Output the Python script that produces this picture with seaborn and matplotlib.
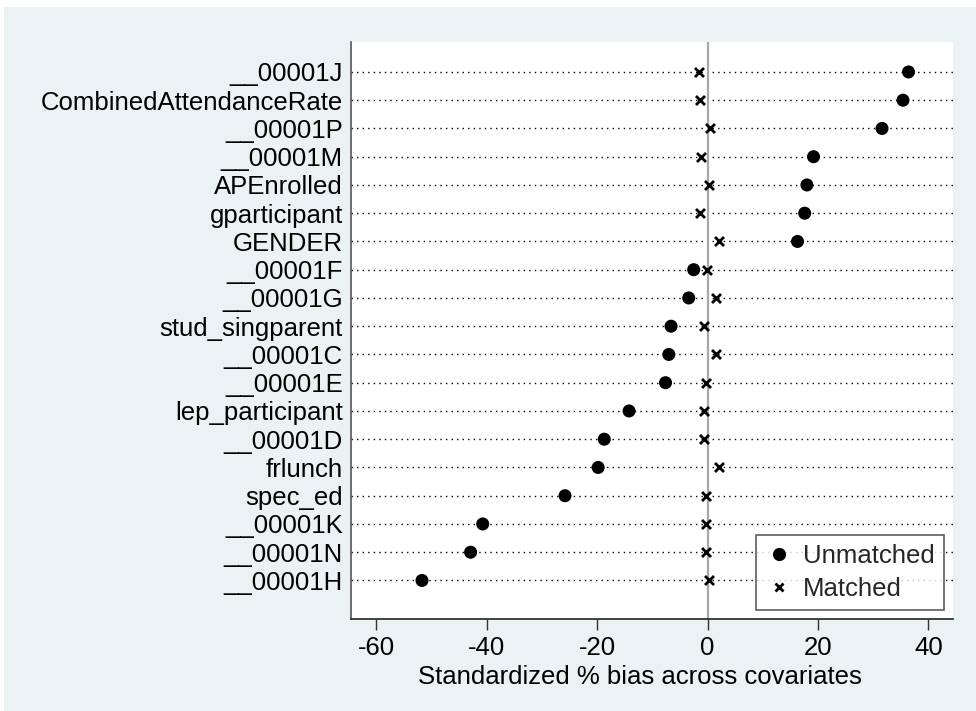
import matplotlib
matplotlib.use("Agg")
import matplotlib.pyplot as plt
import matplotlib.patches as mpatches
from matplotlib.lines import Line2D
import seaborn as sns
import pandas as pd

covariates = ["__00001J", "CombinedAttendanceRate", "__00001P", "__00001M",
              "APEnrolled", "gparticipant", "GENDER", "__00001F", "__00001G",
              "stud_singparent", "__00001C", "__00001E", "lep_participant",
              "__00001D", "frlunch", "spec_ed", "__00001K", "__00001N", "__00001H"]
unmatched = [36.4, 35.4, 31.6, 19.2, 18.0, 17.6, 16.3, -2.5, -3.4,
             -6.6, -7.0, -7.6, -14.2, -18.7, -19.8, -25.8, -40.7, -42.9, -51.7]
matched = [-1.5, -1.4, 0.4, -1.1, 0.2, -1.4, 2.1, -0.1, 1.6,
           -0.6, 1.6, -0.2, -0.7, -0.7, 2.1, -0.2, -0.2, -0.2, 0.2]
xticks = [-60, -40, -20, 0, 20, 40]
series_names = ["Unmatched", "Matched"]
xlabel = "Standardized % bias across covariates"

df = pd.DataFrame({
    "covariate": covariates * 2,
    "bias": unmatched + matched,
    "sample": [series_names[0]] * len(covariates) + [series_names[1]] * len(covariates),
})

sns.set_theme(style="white")
plt.rcParams["font.family"] = ["Liberation Sans", "DejaVu Sans"]
FS = 18.5

fig = plt.figure(figsize=(9.76, 7.11), dpi=100)
fig.patch.set_facecolor("white")
fig.patches.append(mpatches.Rectangle((4 / 976, 0), 1, (711 - 7) / 711,
                                      transform=fig.transFigure,
                                      facecolor="#EAF2F3", edgecolor="none", zorder=-10))

ax = fig.add_axes([351.3 / 976, (711 - 619.3) / 711,
                   (952.7 - 351.3) / 976, (619.3 - 42) / 711])
ax.set_facecolor("white")

n = len(covariates)
pos = {c: i for i, c in enumerate(covariates)}
df["y"] = df["covariate"].map(pos)

for i in range(n):
    ax.axhline(i, color="black", lw=1.0, ls=(0, (1, 3)), zorder=1)
ax.axvline(0, color="#A8A8A8", lw=1.6, zorder=1.5)

sns.scatterplot(data=df[df["sample"] == series_names[0]], x="bias", y="y",
                marker="o", s=88, color="black", edgecolor="none", ax=ax,
                zorder=3, legend=False)
sns.scatterplot(data=df[df["sample"] == series_names[1]], x="bias", y="y",
                marker="x", s=42, color="black", linewidth=2.0, ax=ax,
                zorder=3, legend=False)

ax.set_xlim(-64.5, 44.4)
ax.set_ylim(n - 1 + 1.375, -1.06)
ax.set_yticks(range(n))
ax.set_yticklabels(covariates, fontsize=FS, color="black")
ax.set_xticks(xticks)
ax.set_xticklabels([str(t) for t in xticks], fontsize=FS, color="black")
ax.tick_params(axis="y", length=0, pad=6)
ax.tick_params(axis="x", length=8, width=1, color="#333333", direction="out", pad=4,
               bottom=True)
ax.set_xlabel(xlabel, fontsize=FS, color="black")
ax.xaxis.set_label_coords(0.48, -0.079)
ax.xaxis.label.set_va("top")
ax.set_ylabel("")

for s in ["top", "right"]:
    ax.spines[s].set_visible(False)
ax.spines["left"].set_color("#555555")
ax.spines["left"].set_linewidth(1.2)
ax.spines["bottom"].set_color("#222222")
ax.spines["bottom"].set_linewidth(1.2)

handles = [
    Line2D([], [], marker="o", ls="none", color="black", markersize=9.5, markeredgewidth=0),
    Line2D([], [], marker="x", ls="none", color="black", markersize=6, markeredgewidth=2),
]
leg = ax.legend(handles, series_names, loc="lower right", fontsize=FS,
                frameon=True, fancybox=False, edgecolor="#333333",
                bbox_to_anchor=(944 / 976, (711 - 610) / 711),
                bbox_transform=fig.transFigure,
                borderpad=0.35, handletextpad=0.4, handlelength=1.1,
                labelspacing=0.35, borderaxespad=0)
leg.get_frame().set_linewidth(1.2)

fig.savefig("out.png", dpi=100, facecolor=fig.get_facecolor())
